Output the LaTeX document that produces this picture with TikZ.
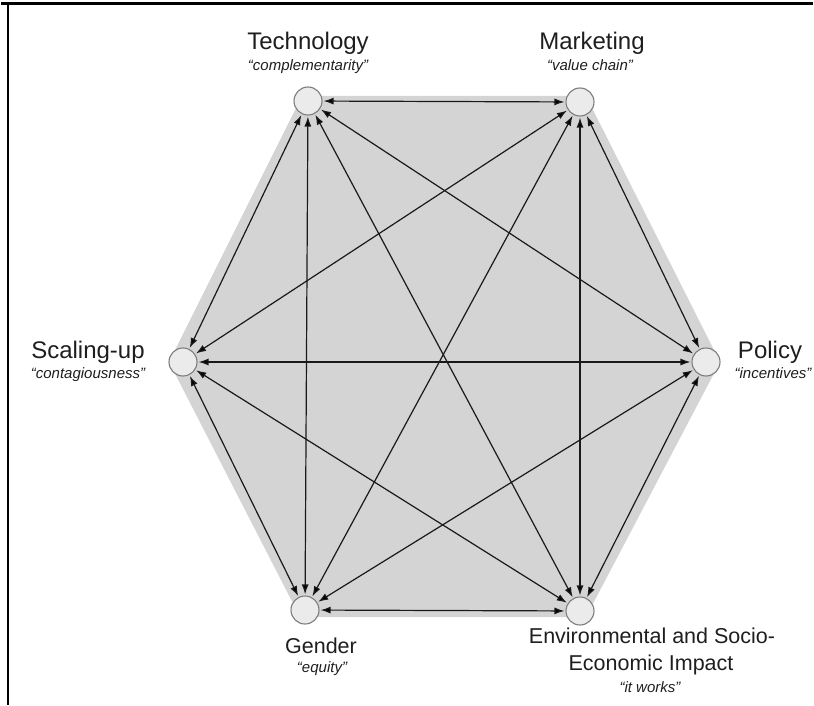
\documentclass[tikz,border=0pt]{standalone}
\usepackage{fontspec}
\setmainfont{Liberation Sans}
\usetikzlibrary{arrows.meta}
\definecolor{hexgray}{RGB}{212,212,212}
\definecolor{dotfill}{RGB}{235,235,235}
\definecolor{dotline}{RGB}{125,125,125}
\definecolor{labeltext}{RGB}{30,30,30}
\tikzstyle{dot} = [circle,
                   minimum size=28pt,
                   inner sep=0pt,
                   draw=dotline,
                   fill=dotfill,
                   line width=1.1pt]
\tikzstyle{topic} = [anchor=base, inner sep=0pt, text=labeltext,
                     font=\fontsize{24}{28}\selectfont]
\tikzstyle{lowtopic} = [topic, font=\fontsize{21.5}{26}\selectfont]
\tikzstyle{motto} = [anchor=base, inner sep=0pt, text=labeltext,
                     font=\fontsize{15}{18}\selectfont\itshape]

\begin{document}
\begin{tikzpicture}[x=1pt, y=-1pt,
                    >={Latex[length=10pt,width=7pt]},
                    shorten >=1pt, shorten <=1pt]
    \useasboundingbox (0,0) rectangle (814,706);
    % frame
    \draw[line width=3pt] (0,4) -- (814,4);
    \draw[line width=2pt] (8,3) -- (8,706);
    % background hexagon
    \fill[hexgray] (302,96) -- (586,96) -- (720,362) -- (586,617)
                   -- (300,617) -- (169,362) -- cycle;
    % the six dots
    \node (tech) [dot] at (308,101) {};
    \node (mkt)  [dot] at (580,102) {};
    \node (scal) [dot] at (183,362) {};
    \node (pol)  [dot] at (706,362) {};
    \node (gen)  [dot] at (305,610) {};
    \node (env)  [dot] at (580,611) {};
    \path[<->, line width=1.2pt, draw=black!90]
      (tech) edge (mkt)
      (tech) edge (scal)
      (tech) edge (pol)
      (tech) edge (gen)
      (tech) edge (env)
      (mkt)  edge (scal)
      (mkt)  edge (pol)
      (mkt)  edge (gen)
      (mkt)  edge (env)
      (scal) edge (pol)
      (scal) edge (gen)
      (scal) edge (env)
      (pol)  edge (gen)
      (pol)  edge (env)
      (gen)  edge (env);
    % labels
    \node (techT) [topic] at (308,50) {Technology};
    \node (techM) [motto] at (308,71) {``complementarity''};
    \node (mktT)  [topic] at (592,50) {Marketing};
    \node (mktM)  [motto] at (590,71) {``value chain''};
    \node (scalT) [topic] at (88,358) {Scaling-up};
    \node (scalM) [motto] at (88,378) {``contagiousness''};
    \node (polT)  [topic] at (770,358) {Policy};
    \node (polM)  [motto] at (773,378) {``incentives''};
    \node (genT)  [lowtopic] at (321,653) {Gender};
    \node (genM)  [motto] at (322,672) {``equity''};
    \node (envT)  [lowtopic] at (652,643) {Environmental and Socio-};
    \node (envU)  [lowtopic] at (651,670) {Economic Impact};
    \node (envM)  [motto] at (650,692) {``it works''};
  \end{tikzpicture}
\end{document}
